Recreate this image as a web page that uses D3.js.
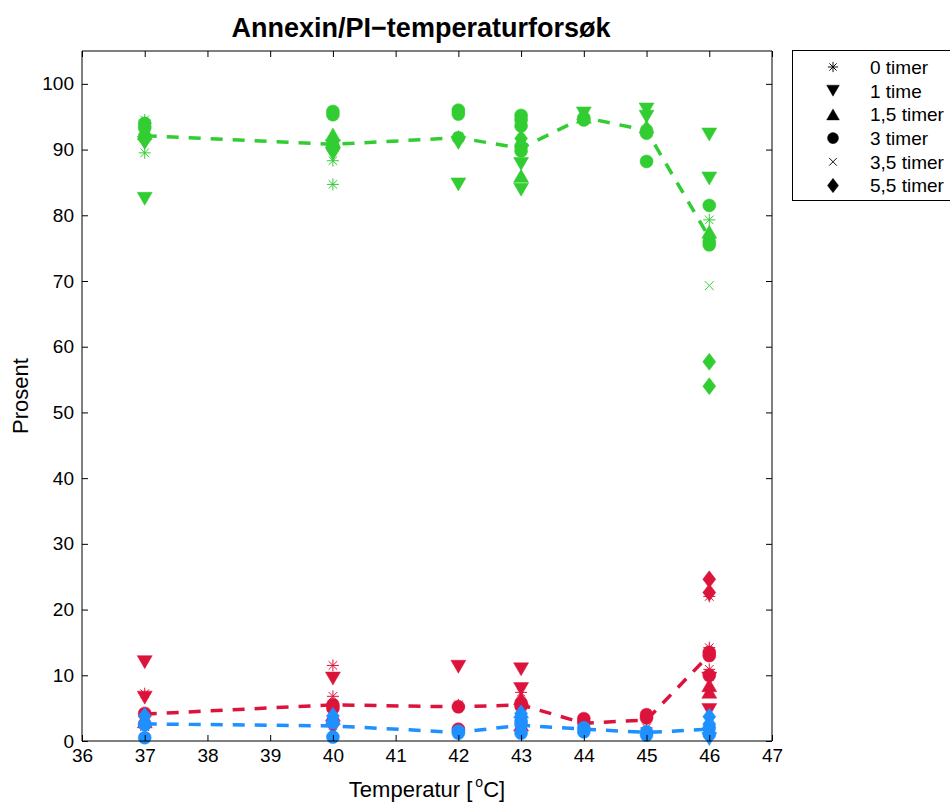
<!DOCTYPE html>
<html><head><meta charset="utf-8">
<script src="https://cdn.jsdelivr.net/npm/d3@7"></script>
<style>
body{margin:0;background:#fff}
text{font-family:"Liberation Sans",Arial,Helvetica,sans-serif}
</style>
</head><body>
<svg id="chart" width="950" height="802"></svg>
<script>
// ---------------- DATA ----------------
const temps = [37, 40, 42, 43, 44, 45, 46];
const timeLabels = ["0 timer", "1 time", "1,5 timer", "3 timer", "3,5 timer", "5,5 timer"];
const xTickValues = [36, 37, 38, 39, 40, 41, 42, 43, 44, 45, 46, 47];
const yTickValues = [0, 10, 20, 30, 40, 50, 60, 70, 80, 90, 100];

// mean lines (dashed)
const greenMean = [92.1, 90.8, 91.8, 90.2, 94.9, 92.9, 76.6];
const redMean   = [4.1, 5.5, 5.2, 5.5, 2.7, 3.2, 13.1];
const blueMean  = [2.6, 2.3, 1.3, 2.4, 1.8, 1.3, 1.8];

// individual points per time point, one entry per temperature (replicates)
const green0h  = [[94.5, 89.5], [88.3, 84.7], [92.0], [90.5], [95.2], [93.0], [79.3]];
const green1h  = [[82.5, 91.0], [89.3, 90.5], [91.0, 84.7], [87.8, 83.9], [95.5], [96.1, 95.0], [92.3, 85.6]];
const green15h = [[92.5], [92.3, 91.3], [], [86.0], [95.0], [93.5], [77.5]];
const green3h  = [[94.0, 93.3, 92.0], [95.8, 95.3, 90.5], [96.0, 95.4, 91.8], [95.2, 94.5, 93.6, 90.5, 89.8], [94.5, 94.8], [92.9, 92.5, 88.2], [81.5, 76.0, 75.5]];
const green35h = [[93.0], [91.0], [], [91.0], [], [], [69.3]];
const green55h = [[91.5, 93.5], [90.0], [], [91.7], [], [], [57.7, 54.0]];

const red0h  = [[7.2], [11.5, 6.8], [5.5], [7.4], [3.0], [2.0], [22.0, 14.2, 10.9]];
const red1h  = [[12.0, 6.6], [9.5], [11.3], [10.9, 7.9], [], [], [9.5, 4.7]];
const red15h = [[3.0], [4.0], [], [2.5, 6.5], [], [], [8.5, 7.5]];
const red3h  = [[4.2, 2.6], [5.5, 5.0], [5.2, 1.8], [5.8, 5.3], [3.4, 2.8], [4.0, 3.5], [13.5, 13.0, 10.0]];
const red35h = [[2.2], [1.8], [], [2.2], [], [], [9.8]];
const red55h = [[3.8], [2.5], [], [3.6], [], [], [24.6, 22.6]];

const blue0h  = [[], [], [], [], [], [], []];
const blue1h  = [[], [], [], [], [], [], [0.3]];
const blue15h = [[], [3.5], [], [4.5], [], [], []];
const blue3h  = [[2.5, 0.5], [2.8, 0.6], [1.5, 1.2], [3.0, 2.5, 1.2], [2.0, 1.4], [1.4, 0.9], [2.0, 1.0]];
const blue35h = [[1.5], [1.2], [], [1.8], [], [], []];
const blue55h = [[3.8], [3.8], [], [4.2], [], [], [3.7, 2.6]];

const series = [
  {color: "#32CD32", mean: greenMean, times: [green0h, green1h, green15h, green3h, green35h, green55h]},
  {color: "#DC143C", mean: redMean,   times: [red0h, red1h, red15h, red3h, red35h, red55h]},
  {color: "#1E90FF", mean: blueMean,  times: [blue0h, blue1h, blue15h, blue3h, blue35h, blue55h]}
];

// ---------------- MARKERS ----------------
const markers = [
  {d: "M-6,0H6M0,-6V6M-4.3,-4.3L4.3,4.3M-4.3,4.3L4.3,-4.3", filled: false},   // star
  {d: "M-7.5,-6.5L7.5,-6.5L0,6.5Z", filled: true},                             // triangle down
  {d: "M-7.5,6.5L7.5,6.5L0,-6.5Z", filled: true},                              // triangle up
  {d: d3.symbol(d3.symbolCircle, Math.PI * 6.5 * 6.5)(), filled: true},         // circle
  {d: "M-4.5,-4.5L4.5,4.5M-4.5,4.5L4.5,-4.5", filled: false},                  // x
  {d: "M0,-8.5L6.5,0L0,8.5L-6.5,0Z", filled: true}                             // diamond
];

// ---------------- LAYOUT ----------------
const svg = d3.select("#chart");
const L = 82, R = 772, T = 51, B = 741;
const x = d3.scaleLinear().domain([36, 47]).range([L, R]);
const y = d3.scaleLinear().domain([0, 105]).range([B, T]);

svg.append("rect").attr("width", 950).attr("height", 802).attr("fill", "#fff");

// data
const plot = svg.append("g");
series.forEach(s => {
  s.times.forEach((arr, ti) => {
    const m = markers[ti];
    arr.forEach((vals, k) => {
      vals.forEach(v => {
        plot.append("path")
          .attr("d", m.d)
          .attr("transform", `translate(${x(temps[k])},${y(v)})`)
          .attr("fill", m.filled ? s.color : "none")
          .attr("stroke", s.color)
          .attr("stroke-width", m.filled ? 0.5 : 1);
      });
    });
  });
  const line = d3.line().x((d, i) => x(temps[i])).y(d => y(d));
  plot.append("path")
    .datum(s.mean)
    .attr("d", line)
    .attr("fill", "none")
    .attr("stroke", s.color)
    .attr("stroke-width", 3.5)
    .attr("stroke-dasharray", "12,10");
});

// axes
const fs = 19;
const gx = svg.append("g").attr("transform", `translate(0,${B})`)
  .call(d3.axisBottom(x).tickValues(xTickValues).tickSizeInner(-6).tickSizeOuter(0).tickPadding(8));
const gxt = svg.append("g").attr("transform", `translate(0,${T})`)
  .call(d3.axisTop(x).tickValues(xTickValues).tickSizeInner(-6).tickSizeOuter(0).tickFormat(""));
const gy = svg.append("g").attr("transform", `translate(${L},0)`)
  .call(d3.axisLeft(y).tickValues(yTickValues).tickSizeInner(-6).tickSizeOuter(0).tickPadding(8));
const gyr = svg.append("g").attr("transform", `translate(${R},0)`)
  .call(d3.axisRight(y).tickValues(yTickValues).tickSizeInner(-6).tickSizeOuter(0).tickFormat(""));
[gx, gxt, gy, gyr].forEach(g => {
  g.selectAll("path.domain").attr("stroke", "#000").attr("stroke-width", 1);
  g.selectAll(".tick line").attr("stroke", "#000");
  g.selectAll(".tick text").attr("font-size", fs).attr("fill", "#000")
    .attr("font-family", '"Liberation Sans",Arial,sans-serif');
});
gx.select("path.domain").attr("d", `M${L},0H${R}`);
gxt.select("path.domain").attr("d", `M${L},0H${R}`);
gy.select("path.domain").attr("d", `M0,${B}V${T}`);
gyr.select("path.domain").attr("d", `M0,${B}V${T}`);

// title and labels
svg.append("text").attr("x", (L + R) / 2 - 6).attr("y", 37)
  .attr("text-anchor", "middle").attr("font-size", 27).attr("font-weight", "bold")
  .text("Annexin/PI\u2212temperaturforsøk");
const xl = svg.append("text").attr("x", (L + R) / 2).attr("y", 797)
  .attr("text-anchor", "middle").attr("font-size", 22);
xl.append("tspan").text("Temperatur [");
xl.append("tspan").attr("font-size", 14).attr("dy", -10).attr("dx", 3).text("o");
xl.append("tspan").attr("dy", 10).text("C]");
svg.append("text").attr("transform", `translate(28,${(T + B) / 2}) rotate(-90)`)
  .attr("text-anchor", "middle").attr("font-size", 22).text("Prosent");

// legend
const lg = svg.append("g");
lg.append("rect").attr("x", 792.5).attr("y", 50.5).attr("width", 170).attr("height", 150)
  .attr("fill", "#fff").attr("stroke", "#000").attr("stroke-width", 1);
timeLabels.forEach((t, i) => {
  const yy = 67 + i * 23.7;
  const m = markers[i];
  lg.append("path").attr("d", m.d)
    .attr("transform", `translate(833,${yy}) scale(0.85)`)
    .attr("fill", m.filled ? "#000" : "none").attr("stroke", "#000")
    .attr("stroke-width", m.filled ? 0.5 : 1.1);
  lg.append("text").attr("x", 870).attr("y", yy).attr("dy", "0.36em")
    .attr("font-size", 19).text(t);
});
</script>
</body></html>
